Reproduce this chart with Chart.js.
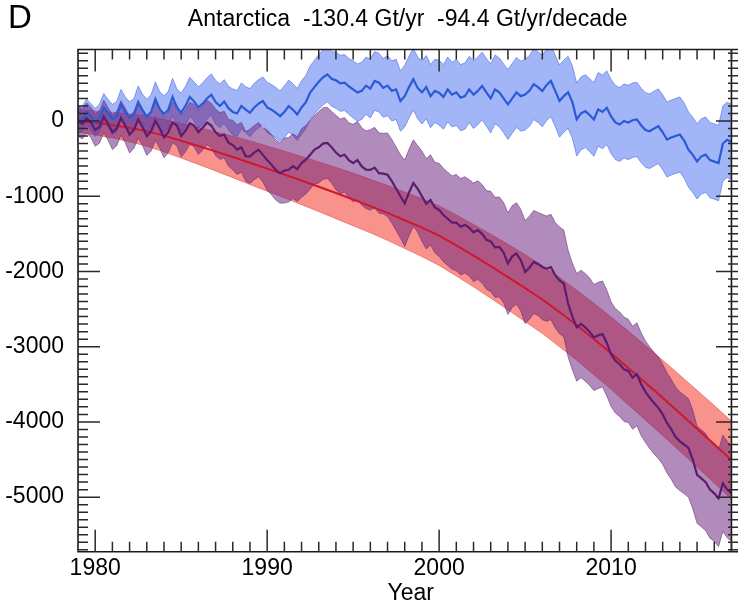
<!DOCTYPE html>
<html>
<head>
<meta charset="utf-8">
<script src="https://cdn.jsdelivr.net/npm/chart.js@4.4.1/dist/chart.umd.min.js"></script>
<style>
html,body{margin:0;padding:0;background:#ffffff;}
#wrap{width:739px;height:607px;position:relative;}
</style>
</head>
<body>
<div id="wrap"><canvas id="c" width="739" height="607"></canvas></div>
<script>
// ---------- text ----------
const PANEL_LABEL = 'D';
const CHART_TITLE = 'Antarctica  -130.4 Gt/yr  -94.4 Gt/yr/decade';
const X_TITLE = 'Year';

// ---------- axes ----------
const X_MIN = 1979, X_MAX = 2017.38;
const Y_MIN = -5725, Y_MAX = 950;
const xTickLabels = [1980, 1990, 2000, 2010];
const yTickLabels = [-5000, -4000, -3000, -2000, -1000, 0];
const X_MINOR_STEP = 1, Y_MINOR_STEP = 100;
const DATA_END_YEAR = 2017;

// ---------- time grid of the observed series (quarterly from 1979.0) ----------
const START_YEAR = 1979;
const STEP_YEAR = 0.25;

// Blue series, Gt (4 values per year: .00 .25 .50 .75), last = 2017.0
const blueMass = [
  0, 30, 120, 60,        // 1979
  -20, 40, 180, 100,     // 1980
  20, 60, 220, 120,      // 1981
  40, 80, 250, 140,      // 1982
  60, 120, 290, 160,     // 1983
  90, 150, 320, 180,     // 1984
  110, 200, 320, 260,    // 1985
  180, 230, 300, 350,    // 1986
  250, 200, 260, 170,    // 1987
  120, 100, 200, 150,    // 1988
  110, 180, 230, 265,    // 1989
  180, 150, 110, 64,     // 1990
  120, 198, 150, 87,     // 1991
  180, 250, 377, 450,    // 1992
  520, 580, 620, 560,    // 1993
  540, 500, 510, 460,    // 1994
  420, 377, 400, 470,    // 1995
  430, 532, 510, 440,    // 1996
  470, 400, 421, 265,    // 1997
  330, 450, 555, 440,    // 1998
  380, 450, 330, 400,    // 1999
  377, 320, 420, 350,    // 2000
  380, 310, 330, 420,    // 2001
  350, 400, 465, 380,    // 2002
  300, 420, 380, 300,    // 2003
  220, 300, 380, 330,    // 2004
  350, 400, 488, 450,    // 2005
  398, 480, 532, 400,    // 2006
  265, 331, 380, 250,    // 2007
  20, 100, 131, 80,      // 2008
  20, 154, 120, 176,     // 2009
  60, -20, -47, 0,       // 2010
  -20, 10, 20, -60,      // 2011
  -120, -136, -100, -70, // 2012
  -150, -247, -220, -200,// 2013
  -180, -260, -381, -450,// 2014
  -537, -470, -448, -520,// 2015
  -540, -559, -300, -250,// 2016
  -280                   // 2017
];

// Purple series, Gt (same grid)
const purpleMass = [
  0, -40, 40, -20,           // 1979
  -120, -80, 60, -40,        // 1980
  -150, -100, 40, -60,       // 1981
  -180, -120, 20, -80,       // 1982
  -200, -140, 0, -100,       // 1983
  -220, -150, -20, -60,      // 1984
  -200, -130, -30, -60,      // 1985
  -150, -90, -20, -60,       // 1986
  -150, -200, -180, -290,    // 1987
  -320, -380, -350, -470,    // 1988
  -470, -420, -381, -450,    // 1989
  -520, -580, -650, -693,    // 1990
  -660, -648, -600, -640,    // 1991
  -559, -515, -450, -380,    // 1992
  -350, -300, -291, -350,    // 1993
  -420, -470, -450, -520,    // 1994
  -560, -520, -604, -648,    // 1995
  -650, -620, -693, -700,    // 1996
  -715, -800, -900, -1000,   // 1997
  -1094, -950, -826, -900,   // 1998
  -1000, -1100, -1050, -1150,// 1999
  -1183, -1250, -1300, -1350,// 2000
  -1350, -1406, -1380, -1420,// 2001
  -1480, -1450, -1500, -1580,// 2002
  -1600, -1680, -1674, -1750,// 2003
  -1896, -1800, -1762, -1850,// 2004
  -2008, -1950, -1874, -1900,// 2005
  -1941, -1963, -1941, -2050,// 2006
  -2119, -2160, -2427, -2600,// 2007
  -2743, -2698, -2743, -2800,// 2008
  -2877, -2850, -2832, -2950,// 2009
  -3100, -3188, -3233, -3300,// 2010
  -3322, -3412, -3366, -3500,// 2011
  -3600, -3679, -3750, -3813,// 2012
  -3900, -4013, -4100, -4200,// 2013
  -4258, -4300, -4347, -4500,// 2014
  -4703, -4750, -4800, -4900,// 2015
  -4950, -5016, -4816, -4900,// 2016
  -4950                      // 2017
];

// Red fitted curve, Gt, yearly 1979..2017
const redFit = [
  0, -24, -55, -92, -135, -195, -262, -332, -404, -478,
  -555, -633, -712, -792, -874, -958, -1043, -1131, -1222, -1320,
  -1418, -1525, -1655, -1790, -1930, -2075, -2222, -2373, -2540, -2715,
  -2897, -3087, -3282, -3480, -3680, -3884, -4090, -4298, -4508
];

// One-sigma uncertainties, Gt, yearly 1979..2017
const redSigma = [
  150, 160, 170, 185, 200, 215, 230, 245, 260, 275,
  290, 300, 310, 320, 330, 340, 350, 355, 365, 375,
  385, 395, 405, 415, 425, 435, 445, 450, 460, 465,
  475, 480, 490, 495, 500, 505, 510, 515, 520
];
const blueSigma = [
  170, 185, 200, 215, 230, 245, 260, 275, 290, 305,
  320, 335, 345, 355, 365, 372, 380, 390, 400, 410,
  420, 430, 440, 450, 458, 465, 470, 475, 480, 485,
  490, 492, 494, 496, 498, 500, 500, 500, 500
];
const purpleSigma = [
  200, 215, 230, 245, 260, 270, 280, 295, 310, 330,
  360, 400, 430, 455, 475, 495, 515, 535, 555, 575,
  600, 620, 640, 655, 665, 675, 685, 700, 710, 715,
  705, 695, 685, 675, 665, 655, 645, 640, 635
];

// ---------- build tables ----------
const qYear = i => START_YEAR + i * STEP_YEAR;
const yearIdx = i => Math.floor(i * STEP_YEAR);
const series = (arr, f) => arr.map((v, i) => ({x: qYear(i), y: f(v, i)}));
const yearly = (arr, f) => arr.map((v, j) => ({x: START_YEAR + j, y: f(v, j)}));

const blueLine = series(blueMass, v => v);
const blueUp = series(blueMass, (v, i) => v + blueSigma[yearIdx(i)]);
const blueLo = series(blueMass, (v, i) => v - blueSigma[yearIdx(i)]);
const purpleLine = series(purpleMass, v => v);
const purpleUp = series(purpleMass, (v, i) => v + purpleSigma[yearIdx(i)]);
const purpleLo = series(purpleMass, (v, i) => v - purpleSigma[yearIdx(i)]);
const redLine = yearly(redFit, v => v);
const redUp = yearly(redFit, (v, j) => v + redSigma[j]);
const redLo = yearly(redFit, (v, j) => v - redSigma[j]);

const FONT = '"Liberation Sans", Arial, Helvetica, sans-serif';
const LABEL_SIZE = 23;

function band(data, fillTo, bg, edge, order) {
  return {data, fill: fillTo, backgroundColor: bg, borderColor: edge, borderWidth: 1,
          pointRadius: 0, tension: 0, order};
}
function line(data, color, width, order) {
  return {data, fill: false, borderColor: color, borderWidth: width, pointRadius: 0,
          tension: 0, order};
}

const datasets = [
  band(redUp, '+1', 'rgba(246,74,64,0.6)', 'rgba(225,70,60,0.55)', 60),
  band(redLo, false, 'rgba(0,0,0,0)', 'rgba(225,70,60,0.55)', 59),
  band(blueUp, '+1', 'rgba(70,110,240,0.5)', 'rgba(60,95,225,0.55)', 50),
  band(blueLo, false, 'rgba(0,0,0,0)', 'rgba(60,95,225,0.55)', 49),
  band(purpleUp, '+1', 'rgba(108,36,128,0.53)', 'rgba(90,30,110,0.5)', 40),
  band(purpleLo, false, 'rgba(0,0,0,0)', 'rgba(90,30,110,0.5)', 39),
  line(redLine, 'rgb(205,25,45)', 2, 3),
  line(blueLine, 'rgb(42,90,216)', 2.2, 2),
  line(purpleLine, 'rgb(92,28,112)', 2.2, 1)
];

const decor = {
  id: 'decor',
  afterDraw(chart) {
    const {ctx, chartArea: a, scales: {x, y}} = chart;
    ctx.save();
    const rx = x.getPixelForValue(DATA_END_YEAR);
    // frame
    ctx.strokeStyle = '#1a1a1a';
    ctx.lineWidth = 1.6;
    ctx.beginPath();
    ctx.moveTo(a.right, a.top); ctx.lineTo(a.left, a.top); ctx.lineTo(a.left, a.bottom); ctx.lineTo(a.right, a.bottom);
    ctx.moveTo(rx, a.top); ctx.lineTo(rx, a.bottom);
    ctx.stroke();
    // ticks
    ctx.strokeStyle = '#2a2a2a';
    ctx.lineWidth = 1.5;
    ctx.beginPath();
    for (let yr = Math.ceil(X_MIN) + 1; yr <= Math.floor(X_MAX); yr += X_MINOR_STEP) {
      const px = x.getPixelForValue(yr);
      const len = xTickLabels.includes(yr) ? 22 : 10;
      ctx.moveTo(px, a.bottom); ctx.lineTo(px, a.bottom - len);
      ctx.moveTo(px, a.top); ctx.lineTo(px, a.top + len);
    }
    for (let v = Math.ceil(Y_MIN / Y_MINOR_STEP) * Y_MINOR_STEP; v <= Y_MAX; v += Y_MINOR_STEP) {
      const py = y.getPixelForValue(v);
      const len = yTickLabels.includes(v) ? 22 : 10;
      ctx.moveTo(a.left, py); ctx.lineTo(a.left + len, py);
      ctx.moveTo(a.right, py); ctx.lineTo(a.right - len, py);
    }
    ctx.stroke();
    // texts
    ctx.fillStyle = '#000';
    ctx.textBaseline = 'middle';
    ctx.textAlign = 'center';
    ctx.font = LABEL_SIZE + 'px ' + FONT;
    ctx.fillText(CHART_TITLE, (a.left + rx) / 2 + 3, 20);
    ctx.fillText(X_TITLE, (a.left + rx) / 2 + 6, 594);
    ctx.textAlign = 'left';
    ctx.font = '33px ' + FONT;
    ctx.fillText(PANEL_LABEL, 8, 19);
    ctx.restore();
  }
};

new Chart(document.getElementById('c'), {
  type: 'line',
  data: {datasets},
  options: {
    responsive: false,
    animation: false,
    events: [],
    layout: {padding: {left: 1, right: 1, top: 49.5, bottom: 0}},
    plugins: {legend: {display: false}, tooltip: {enabled: false}, title: {display: false}},
    scales: {
      x: {
        type: 'linear', min: X_MIN, max: X_MAX,
        grid: {display: false, drawTicks: false},
        border: {display: false},
        afterFit: s => { s.height = 55.3; },
        afterBuildTicks: s => { s.ticks = xTickLabels.map(v => ({value: v})); },
        ticks: {font: {family: FONT, size: LABEL_SIZE}, color: '#000', padding: 3, maxRotation: 0,
                autoSkip: false, callback: v => String(v)}
      },
      y: {
        type: 'linear', min: Y_MIN, max: Y_MAX,
        grid: {display: false, drawTicks: false},
        border: {display: false},
        afterFit: s => { s.width = 77; },
        afterBuildTicks: s => { s.ticks = yTickLabels.map(v => ({value: v})); },
        ticks: {font: {family: FONT, size: LABEL_SIZE}, color: '#000', padding: 14,
                autoSkip: false, callback: v => String(v)}
      }
    }
  },
  plugins: [decor]
});
</script>
</body>
</html>
